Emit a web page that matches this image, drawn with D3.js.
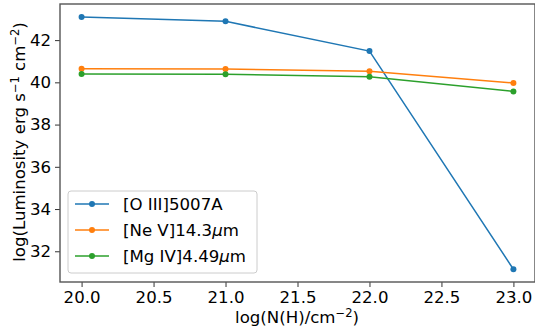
<!DOCTYPE html>
<html lang="en">
<head>
    <meta charset="UTF-8">
    <title>luminosity vs column density</title>
    <script src="https://d3js.org/d3.v7.min.js"></script>
    <style>
        body { margin: 0; background: #fff; }
        text { font-family: "DejaVu Sans", sans-serif; fill: #000; }
    </style>
</head>
<body>
    <svg id="chart" width="535" height="333"></svg>
    <script>
        // data
        const columnDensity = [20.0, 21.0, 22.0, 23.0];
        const oiii = [43.10, 42.89, 41.48, 31.15];
        const nev = [40.64, 40.63, 40.53, 39.97];
        const mgiv = [40.39, 40.38, 40.27, 39.57];
        const xTicks = [20.0, 20.5, 21.0, 21.5, 22.0, 22.5, 23.0];
        const yTicks = [32, 34, 36, 38, 40, 42];

        const series = [
            { name: "oiii", values: oiii, color: "#1f77b4" },
            { name: "nev", values: nev, color: "#ff7f0e" },
            { name: "mgiv", values: mgiv, color: "#2ca02c" }
        ];

        const fs = "16.6px";
        const svg = d3.select("#chart");
        const margin = { top: 4, right: 0, bottom: 51, left: 60 };
        const plotWidth = 535 - margin.left - margin.right;
        const plotHeight = 333 - margin.top - margin.bottom;

        const x = d3.scaleLinear().domain([19.85, 23.15]).range([0, plotWidth]);
        const y = d3.scaleLinear().domain([30.545, 43.71]).range([plotHeight, 0]);

        const plot = svg.append("g")
            .attr("transform", `translate(${margin.left},${margin.top})`);

        // axes
        const xAxis = plot.append("g")
            .attr("transform", `translate(0,${plotHeight})`)
            .call(d3.axisBottom(x).tickValues(xTicks).tickFormat(d3.format(".1f")).tickSize(5).tickPadding(4));
        const yAxis = plot.append("g")
            .call(d3.axisLeft(y).tickValues(yTicks).tickFormat(d3.format("d")).tickSize(5).tickPadding(4));

        [xAxis, yAxis].forEach(ax => {
            ax.select(".domain").remove();
            ax.selectAll(".tick line").attr("stroke", "#333").attr("stroke-width", 1);
            ax.selectAll(".tick text").style("font-size", fs).attr("fill", "#000");
        });

        // frame
        plot.append("rect")
            .attr("width", plotWidth)
            .attr("height", plotHeight)
            .attr("fill", "none")
            .attr("stroke", "#555")
            .attr("stroke-width", 1.4);

        const line = d3.line()
            .x((d, i) => x(columnDensity[i]))
            .y(d => y(d));

        series.forEach(s => {
            plot.append("path")
                .datum(s.values)
                .attr("d", line)
                .attr("fill", "none")
                .attr("stroke", s.color)
                .attr("stroke-width", 1.5);
            plot.selectAll(".pt-" + s.name)
                .data(s.values)
                .join("circle")
                .attr("class", "pt-" + s.name)
                .attr("cx", (d, i) => x(columnDensity[i]))
                .attr("cy", d => y(d))
                .attr("r", 3)
                .attr("fill", s.color);
        });

        // axis labels
        const xl = svg.append("text")
            .attr("x", 297)
            .attr("y", 323)
            .attr("text-anchor", "middle")
            .style("font-size", fs);
        xl.append("tspan").text("log(N(H)/cm");
        xl.append("tspan").attr("dy", -6).style("font-size", "11.5px").text("\u22122");
        xl.append("tspan").attr("dy", 6).text(")");

        const yl = svg.append("text")
            .attr("transform", "translate(25,142) rotate(-90)")
            .attr("text-anchor", "middle")
            .style("font-size", fs);
        yl.append("tspan").text("log(Luminosity erg s");
        yl.append("tspan").attr("dy", -6).style("font-size", "11.5px").text("\u22121");
        yl.append("tspan").attr("dy", 6).text(" cm");
        yl.append("tspan").attr("dy", -6).style("font-size", "11.5px").text("\u22122");
        yl.append("tspan").attr("dy", 6).text(")");

        // legend
        const legend = svg.append("g").attr("transform", "translate(68,191)");
        legend.append("rect")
            .attr("width", 189)
            .attr("height", 82)
            .attr("rx", 3)
            .attr("fill", "#fff")
            .attr("fill-opacity", 0.8)
            .attr("stroke", "#ccc");

        const labels = [
            ["[O III]5007A", null],
            ["[Ne V]14.3", "m"],
            ["[Mg IV]4.49", "m"]
        ];
        series.forEach((s, i) => {
            const cy = 13 + i * 26;
            legend.append("line")
                .attr("x1", 7).attr("x2", 41)
                .attr("y1", cy).attr("y2", cy)
                .attr("stroke", s.color).attr("stroke-width", 1.5);
            legend.append("circle")
                .attr("cx", 24).attr("cy", cy).attr("r", 3)
                .attr("fill", s.color);
            const t = legend.append("text")
                .attr("x", 55)
                .attr("y", cy)
                .attr("dy", "0.36em")
                .style("font-size", fs);
            t.append("tspan").text(labels[i][0]);
            if (labels[i][1]) {
                t.append("tspan").style("font-style", "italic").text("\u03bc");
                t.append("tspan").text(labels[i][1]);
            }
        });
    </script>
</body>
</html>
